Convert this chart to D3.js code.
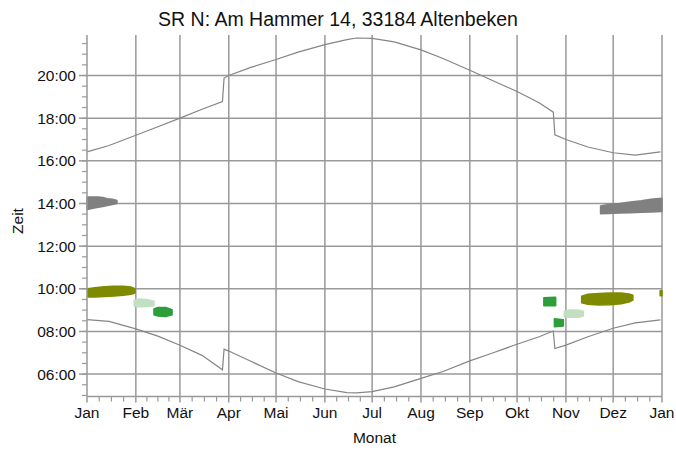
<!DOCTYPE html>
<html>
<head>
<meta charset="utf-8">
<script src="https://cdn.jsdelivr.net/npm/d3@7"></script>
<style>
  body { margin: 0; background: #fff; }
  svg { display: block; }
  text { font-family: Arial, 'Liberation Sans', sans-serif; fill: #111; }
</style>
</head>
<body>
<svg></svg>
<script>
const width = 676;
const height = 450;

const title = "SR N: Am Hammer 14, 33184 Altenbeken";

// month labels and first day of each month (day of year, 0 = 1 Jan)
const months = ["Jan", "Feb", "Mär", "Apr", "Mai", "Jun", "Jul", "Aug", "Sep", "Okt", "Nov", "Dez", "Jan"];
const monthStart = [0, 31, 59, 90, 120, 151, 181, 212, 243, 273, 304, 334, 365];

const hourTicks = [6, 8, 10, 12, 14, 16, 18, 20];

// sunset / sunrise curves, hours
const curveDays = [0, 14, 31, 45, 59, 73, 86, 87, 90, 104, 120, 134, 151, 165, 171, 181, 195, 212, 226, 243, 257, 273, 287, 296, 297, 304, 318, 334, 348, 364];
const sunset = [16.42, 16.72, 17.2, 17.6, 18.0, 18.42, 18.78, 19.88, 20.0, 20.38, 20.75, 21.1, 21.45, 21.68, 21.76, 21.74, 21.58, 21.2, 20.8, 20.25, 19.78, 19.25, 18.72, 18.28, 17.22, 17.0, 16.65, 16.38, 16.27, 16.42];
const sunrise = [8.55, 8.47, 8.12, 7.78, 7.35, 6.88, 6.2, 7.17, 7.08, 6.6, 6.05, 5.65, 5.3, 5.13, 5.12, 5.18, 5.4, 5.8, 6.12, 6.62, 6.98, 7.4, 7.75, 8.02, 7.2, 7.36, 7.75, 8.15, 8.4, 8.54];

// shadow periods: [day, from hour, to hour]
const grayJan = [[0, 13.72, 14.3], [3, 13.76, 14.3], [7, 13.82, 14.3], [10, 13.86, 14.28], [13, 13.9, 14.22], [16, 13.95, 14.2], [19, 14.0, 14.14]];
const grayDez = [[326, 13.52, 13.88], [331, 13.53, 13.95], [338, 13.55, 14.0], [345, 13.57, 14.07], [352, 13.59, 14.13], [358, 13.6, 14.2], [365, 13.62, 14.25]];
const oliveJan = [[0.5, 9.62, 10.0], [5, 9.62, 10.05], [11, 9.64, 10.1], [17, 9.66, 10.12], [23, 9.7, 10.12], [28, 9.74, 10.08], [30.5, 9.8, 10.0]];
const oliveNov = [[314, 9.35, 9.65], [318, 9.27, 9.74], [325, 9.24, 9.78], [332, 9.25, 9.8], [339, 9.3, 9.8], [344, 9.38, 9.76], [346.5, 9.47, 9.7]];
const oliveEnd = [[363.8, 9.67, 9.91], [365, 9.67, 9.91]];
const lightFeb = [[30, 9.18, 9.45], [33, 9.16, 9.52], [38, 9.17, 9.5], [42.5, 9.2, 9.42]];
const lightNov = [[303, 8.7, 8.95], [306, 8.66, 9.0], [312, 8.67, 9.0], [315, 8.72, 8.95]];
const greenFeb = [[42.5, 8.78, 9.05], [45, 8.72, 9.12], [50, 8.7, 9.12], [54, 8.78, 9.02]];
const greenOkt = [[290, 9.2, 9.58], [297.5, 9.2, 9.6]];
const greenNov = [[296.7, 8.22, 8.6], [302.4, 8.25, 8.55]];

const blobs = [
  { data: grayJan, color: "#808080" },
  { data: grayDez, color: "#808080" },
  { data: oliveJan, color: "#7f8a00" },
  { data: oliveNov, color: "#7f8a00" },
  { data: oliveEnd, color: "#7f8a00" },
  { data: lightFeb, color: "#c3dfc3" },
  { data: lightNov, color: "#c3dfc3" },
  { data: greenFeb, color: "#2d9e3a" },
  { data: greenOkt, color: "#2d9e3a" },
  { data: greenNov, color: "#2d9e3a" }
];

const margin = { left: 87, right: 14, top: 35, bottom: 53.5 };

const x = d3.scaleLinear().domain([0, 365]).range([margin.left, width - margin.right]);
const y = d3.scaleLinear().domain([4.95, 21.9]).range([height - margin.bottom, margin.top]);

const gridColor = "#999";

const svg = d3.select('svg')
  .attr('width', width)
  .attr('height', height);

function fmtHour(h) {
  return (h < 10 ? "0" : "") + h + ":00";
}

// grid
svg.append('g')
  .selectAll('line')
  .data(hourTicks)
  .enter().append('line')
    .attr('x1', x(0)).attr('x2', x(365))
    .attr('y1', d => y(d)).attr('y2', d => y(d))
    .attr('stroke', gridColor)
    .attr('stroke-width', 1.5);

svg.append('g')
  .selectAll('line')
  .data(monthStart.slice(1))
  .enter().append('line')
    .attr('x1', d => x(d)).attr('x2', d => x(d))
    .attr('y1', y.range()[0]).attr('y2', y.range()[1])
    .attr('stroke', gridColor)
    .attr('stroke-width', 1.5);

// shadow blobs
const blobArea = d3.area()
  .x(d => x(d[0]))
  .y0(d => y(d[1]))
  .y1(d => y(d[2]));

svg.append('g')
  .selectAll('path')
  .data(blobs)
  .enter().append('path')
    .attr('d', d => blobArea(d.data))
    .attr('fill', d => d.color)
    .attr('stroke', d => d.color)
    .attr('stroke-width', 1.5)
    .attr('stroke-linejoin', 'round');

// sun curves
const sunLine = d3.line()
  .x(d => x(d[0]))
  .y(d => y(d[1]));

[sunset, sunrise].forEach(series => {
  svg.append('path')
    .attr('d', sunLine(curveDays.map((d, i) => [d, series[i]])))
    .attr('fill', 'none')
    .attr('stroke', '#858585')
    .attr('stroke-width', 1.2);
});

// y axis
const yAxis = svg.append('g');
yAxis.append('line')
  .attr('x1', x(0)).attr('x2', x(0))
  .attr('y1', y.range()[0]).attr('y2', y.range()[1])
  .attr('stroke', gridColor).attr('stroke-width', 1.5);

yAxis.selectAll('.minor')
  .data(d3.range(5, 21.9, 0.5))
  .enter().append('line')
    .attr('x1', x(0) - 5).attr('x2', x(0))
    .attr('y1', d => y(d)).attr('y2', d => y(d))
    .attr('stroke', gridColor).attr('stroke-width', 1.2);

yAxis.selectAll('.major')
  .data(hourTicks)
  .enter().append('line')
    .attr('x1', x(0) - 8).attr('x2', x(0))
    .attr('y1', d => y(d)).attr('y2', d => y(d))
    .attr('stroke', gridColor).attr('stroke-width', 1.5);

yAxis.selectAll('text')
  .data(hourTicks)
  .enter().append('text')
    .attr('x', x(0) - 11)
    .attr('y', d => y(d))
    .attr('dy', '0.35em')
    .attr('text-anchor', 'end')
    .attr('font-size', 15.5)
    .text(fmtHour);

// x axis
const xAxis = svg.append('g');
xAxis.append('line')
  .attr('x1', x(0)).attr('x2', x(365))
  .attr('y1', y.range()[0]).attr('y2', y.range()[0])
  .attr('stroke', gridColor).attr('stroke-width', 1.5);

const quarterTicks = [];
monthStart.slice(0, -1).forEach((m, i) => {
  const len = monthStart[i + 1] - m;
  [1, 2, 3].forEach(q => quarterTicks.push(m + len * q / 4));
});

xAxis.selectAll('.minor')
  .data(quarterTicks)
  .enter().append('line')
    .attr('x1', d => x(d)).attr('x2', d => x(d))
    .attr('y1', y.range()[0]).attr('y2', y.range()[0] + 5)
    .attr('stroke', gridColor).attr('stroke-width', 1.2);

xAxis.selectAll('.major')
  .data(monthStart)
  .enter().append('line')
    .attr('x1', d => x(d)).attr('x2', d => x(d))
    .attr('y1', y.range()[0]).attr('y2', y.range()[0] + 6)
    .attr('stroke', gridColor).attr('stroke-width', 1.5);

xAxis.selectAll('text')
  .data(monthStart)
  .enter().append('text')
    .attr('x', d => x(d))
    .attr('y', 418)
    .attr('text-anchor', 'middle')
    .attr('font-size', 15.5)
    .text((d, i) => months[i]);

// titles
svg.append('text')
  .attr('x', width / 2)
  .attr('y', 26)
  .attr('text-anchor', 'middle')
  .attr('font-size', 19.5)
  .text(title);

svg.append('text')
  .attr('x', (x(0) + x(365)) / 2)
  .attr('y', 443)
  .attr('text-anchor', 'middle')
  .attr('font-size', 15.5)
  .text("Monat");

svg.append('text')
  .attr('transform', 'translate(23,221) rotate(-90)')
  .attr('text-anchor', 'middle')
  .attr('font-size', 15.5)
  .text("Zeit");
</script>
</body>
</html>
